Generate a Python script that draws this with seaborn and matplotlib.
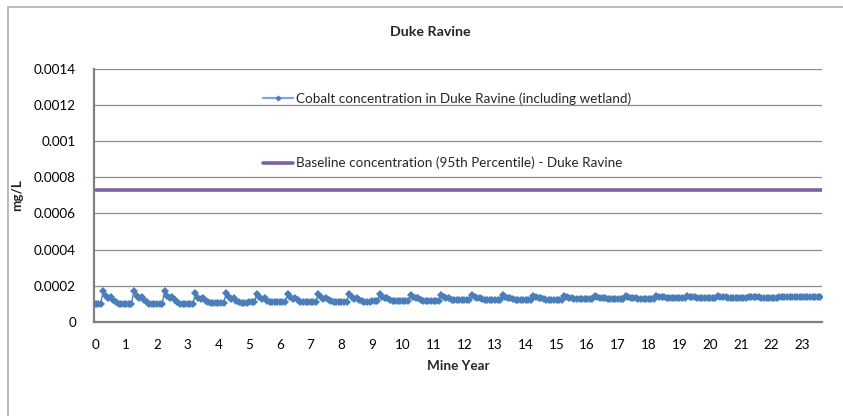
import numpy as np
import pandas as pd
import matplotlib
matplotlib.use("Agg")
import matplotlib.pyplot as plt
import seaborn as sns
from matplotlib.lines import Line2D
from matplotlib.patches import Rectangle
from matplotlib.ticker import FuncFormatter

# Cobalt concentration, read per mine year (12 values per year, units of 1e-4 mg/L)
cobalt_by_year = [
    [1.00, 1.00, 1.00, 1.72, 1.45, 1.32, 1.38, 1.20, 1.08, 1.00, 1.00, 1.00],
    [1.00, 1.00, 1.00, 1.72, 1.45, 1.32, 1.38, 1.20, 1.08, 1.00, 1.00, 1.00],
    [1.00, 1.00, 1.00, 1.72, 1.45, 1.32, 1.38, 1.20, 1.08, 1.00, 1.00, 1.00],
    [1.00, 1.00, 1.00, 1.58, 1.35, 1.28, 1.30, 1.16, 1.08, 1.04, 1.04, 1.04],
    [1.05, 1.05, 1.05, 1.58, 1.36, 1.28, 1.30, 1.17, 1.10, 1.07, 1.07, 1.07],
    [1.08, 1.08, 1.08, 1.56, 1.36, 1.28, 1.30, 1.18, 1.12, 1.09, 1.09, 1.09],
    [1.10, 1.10, 1.10, 1.55, 1.36, 1.29, 1.30, 1.19, 1.13, 1.11, 1.11, 1.11],
    [1.11, 1.11, 1.11, 1.54, 1.36, 1.29, 1.30, 1.20, 1.14, 1.12, 1.12, 1.12],
    [1.12, 1.12, 1.12, 1.54, 1.36, 1.29, 1.30, 1.21, 1.15, 1.13, 1.13, 1.13],
    [1.14, 1.14, 1.14, 1.52, 1.36, 1.30, 1.31, 1.22, 1.17, 1.15, 1.15, 1.15],
    [1.16, 1.16, 1.16, 1.50, 1.36, 1.30, 1.31, 1.23, 1.18, 1.17, 1.17, 1.17],
    [1.18, 1.18, 1.18, 1.49, 1.36, 1.31, 1.32, 1.24, 1.20, 1.19, 1.19, 1.19],
    [1.20, 1.20, 1.20, 1.48, 1.36, 1.31, 1.32, 1.25, 1.21, 1.20, 1.20, 1.20],
    [1.21, 1.21, 1.21, 1.47, 1.36, 1.32, 1.33, 1.26, 1.23, 1.22, 1.22, 1.22],
    [1.23, 1.23, 1.23, 1.46, 1.36, 1.32, 1.33, 1.27, 1.24, 1.23, 1.23, 1.23],
    [1.24, 1.24, 1.24, 1.45, 1.37, 1.33, 1.34, 1.28, 1.26, 1.25, 1.25, 1.25],
    [1.26, 1.26, 1.26, 1.44, 1.37, 1.34, 1.35, 1.30, 1.27, 1.27, 1.27, 1.27],
    [1.27, 1.27, 1.27, 1.43, 1.37, 1.35, 1.35, 1.31, 1.29, 1.28, 1.28, 1.28],
    [1.29, 1.29, 1.29, 1.42, 1.38, 1.36, 1.36, 1.32, 1.30, 1.30, 1.30, 1.30],
    [1.30, 1.30, 1.30, 1.42, 1.38, 1.37, 1.37, 1.34, 1.32, 1.31, 1.31, 1.31],
    [1.32, 1.32, 1.32, 1.41, 1.38, 1.37, 1.37, 1.35, 1.33, 1.33, 1.33, 1.33],
    [1.33, 1.33, 1.33, 1.40, 1.38, 1.38, 1.38, 1.36, 1.35, 1.35, 1.35, 1.35],
    [1.35, 1.35, 1.35, 1.40, 1.39, 1.38, 1.38, 1.37, 1.36, 1.36, 1.36, 1.36],
    [1.36, 1.36, 1.36, 1.40, 1.39, 1.38, 1.38, 1.38],
]
baseline_95th = 0.00073
months_per_year = 12
x_ticks = list(range(0, 24))
y_ticks = [0, 0.0002, 0.0004, 0.0006, 0.0008, 0.001, 0.0012, 0.0014]

cobalt = np.concatenate([np.array(r) for r in cobalt_by_year]) * 1e-4
mine_year = np.arange(len(cobalt)) / months_per_year
df = pd.DataFrame({"Mine Year": mine_year, "mg/L": cobalt})
base_df = pd.DataFrame({"Mine Year": [0, 23.65], "mg/L": [baseline_95th, baseline_95th]})

sns.set_style("white")
plt.rcParams["font.family"] = ["Lato", "DejaVu Sans"]

blue = "#4a7ebb"
purple = "#7d60a0"
grid_c = "#8c8c8c"
fs = 9.7

fig = plt.figure(figsize=(8.43, 4.16), dpi=100)
ax = fig.add_axes([0.1115, 0.226, 0.864, 0.609])

sns.lineplot(data=base_df, x="Mine Year", y="mg/L", ax=ax, color=purple, lw=2.6, zorder=3)
sns.lineplot(data=df, x="Mine Year", y="mg/L", ax=ax, color=blue, lw=1.0,
             marker="D", markersize=3.8, markeredgewidth=0, zorder=4)

ax.set_xlim(-0.05, 23.65)
ax.set_ylim(0, 0.0014)
ax.set_xticks(x_ticks)
ax.set_yticks(y_ticks)
ax.yaxis.set_major_formatter(FuncFormatter(lambda v, p: "0" if v == 0 else ("%.4f" % v).rstrip("0")))
ax.tick_params(axis="both", length=0, labelsize=fs, colors="black")
ax.tick_params(axis="x", pad=12)
ax.tick_params(axis="y", pad=13)
ax.grid(axis="y", color=grid_c, lw=0.9)
ax.grid(axis="x", visible=False)
for s in ["top", "right"]:
    ax.spines[s].set_visible(False)
for s in ["left", "bottom"]:
    ax.spines[s].set_color("#808080")
    ax.spines[s].set_linewidth(1.6)
ax.set_xlabel("Mine Year", fontsize=fs, fontweight="bold", labelpad=7)
ax.set_ylabel("mg/L", fontsize=fs, fontweight="bold")
ax.yaxis.set_label_coords(-0.097, 0.5)

handles = [
    Line2D([], [], color="#7ea6d8", lw=1.6, marker="D", markersize=3.2,
           markerfacecolor=blue, markeredgewidth=0),
    Line2D([], [], color=purple, lw=2.6),
]
labels = ["Cobalt concentration in Duke Ravine (including wetland)",
          "Baseline concentration (95th Percentile) - Duke Ravine"]
ax.legend(handles, labels, loc="upper left", bbox_to_anchor=(0.225, 0.928),
          frameon=False, fontsize=fs, handlelength=2.2, handletextpad=0.2,
          labelspacing=3.85, borderaxespad=0)

fig.suptitle("Duke Ravine", x=0.51, y=0.938, fontsize=10.3, fontweight="bold")

fig.patches.append(Rectangle((8 / 843, -0.1), 1.2, 1 - 7 / 416 + 0.1, transform=fig.transFigure,
                             fill=False, edgecolor="#b0b0b0", lw=1.2))

fig.savefig("out.png", dpi=100)
